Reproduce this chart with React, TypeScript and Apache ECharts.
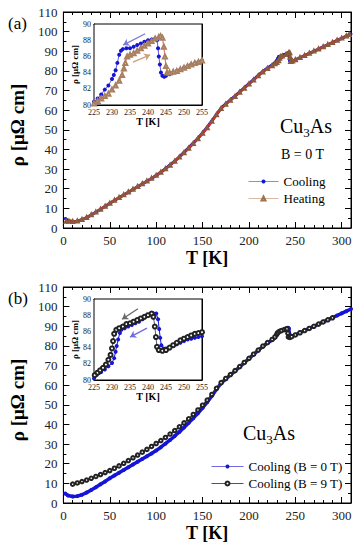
import React, { useEffect, useRef } from "react";
import * as echarts from "echarts";

const FONT = "Liberation Serif";

// ---------- data (T [K], rho [μΩ cm]) ----------
const coolingMain: number[][] = [
  [2, 4.8], [5, 3.8], [10, 3.3], [15, 3.5], [20, 4.2], [25, 5.3], [30, 6.6], [35, 8.0], [40, 9.5], [45, 11.0],
  [50, 12.6], [55, 14.0], [60, 15.4], [65, 16.8], [70, 18.2], [75, 19.6], [80, 21.0], [85, 22.4], [90, 23.8], [95, 25.2],
  [100, 26.7], [105, 28.4], [110, 30.2], [115, 32.1], [120, 34.1], [125, 36.2], [130, 38.5], [135, 40.8], [140, 43.2], [145, 45.7],
  [150, 48.4], [155, 51.3], [160, 54.5], [165, 57.9], [170, 61.0], [175, 63.2], [180, 65.2], [185, 67.2], [190, 69.3], [195, 71.4],
  [200, 73.5], [205, 75.6], [210, 77.7], [215, 79.7], [220, 81.5], [225, 83.0], [228, 84.2], [230, 85.4], [231, 86.3], [232, 87.3],
  [235, 87.8], [238, 88.3], [240, 88.7], [242, 89.2], [243, 89.0], [243.5, 86.5], [244, 85.0], [245, 84.6], [247, 85.0], [250, 85.6],
  [255, 86.7], [260, 87.8], [265, 88.9], [270, 90.0], [275, 91.1], [280, 92.2], [285, 93.3], [290, 94.4], [295, 95.5], [300, 96.6],
  [305, 97.7], [310, 98.8],
];

const heatingMain: number[][] = [
  [3, 3.5], [6, 3.4], [10, 3.3], [15, 3.6], [20, 4.3], [25, 5.4], [30, 6.7], [35, 8.1], [40, 9.6], [45, 11.1],
  [50, 12.6], [55, 14.1], [60, 15.5], [65, 16.9], [70, 18.3], [75, 19.7], [80, 21.1], [85, 22.5], [90, 23.9], [95, 25.3],
  [100, 26.8], [105, 28.4], [110, 30.2], [115, 32.0], [120, 34.0], [125, 36.1], [130, 38.3], [135, 40.6], [140, 43.0], [145, 45.5],
  [150, 48.2], [155, 51.1], [160, 54.3], [165, 57.7], [170, 60.8], [175, 63.0], [180, 65.0], [185, 67.0], [190, 69.1], [195, 71.2],
  [200, 73.3], [205, 75.4], [210, 77.5], [215, 79.5], [220, 81.2], [225, 82.6], [228, 83.6], [230, 84.3], [232, 85.2], [233, 86.4],
  [234, 87.2], [236, 87.6], [240, 88.4], [243, 89.2], [244, 89.3], [244.5, 86.8], [245, 84.8], [247, 85.1], [250, 85.7], [255, 86.8],
  [260, 87.9], [265, 89.0], [270, 90.1], [275, 91.2], [280, 92.3], [285, 93.4], [290, 94.5], [295, 95.6], [300, 96.7], [305, 97.8],
  [308, 98.6],
];

const field9Main: number[][] = [
  [10, 9.6], [15, 10.2], [20, 10.9], [25, 11.7], [30, 12.6], [35, 13.5], [40, 14.5], [45, 15.5], [50, 16.5], [55, 17.7],
  [60, 18.9], [65, 20.2], [70, 21.6], [75, 23.0], [80, 24.4], [85, 25.9], [90, 27.3], [95, 28.8], [100, 30.3], [105, 31.8],
  [110, 33.4], [115, 35.1], [120, 36.9], [125, 38.8], [130, 40.8], [135, 42.9], [140, 45.1], [145, 47.4], [150, 49.8], [155, 52.4],
  [160, 55.3], [165, 58.4], [170, 61.3], [175, 63.4], [180, 65.4], [185, 67.4], [190, 69.5], [195, 71.6], [200, 73.7], [205, 75.8],
  [210, 77.9], [215, 79.9], [220, 81.7], [225, 83.3], [228, 84.6], [230, 86.0], [231, 86.8], [233, 87.4], [235, 87.8], [238, 88.3],
  [240, 88.6], [241, 88.7], [242, 86.5], [242.5, 84.6], [244, 84.3], [246, 84.7], [250, 85.6], [255, 86.7], [260, 87.8], [265, 88.9],
  [270, 90.0], [275, 91.1], [280, 92.2], [285, 93.3], [290, 94.3],
];

const coolingInsetA: number[][] = [
  [225, 80.4], [226, 80.8], [227, 81.3], [228, 81.9], [229, 82.4], [230, 83.2], [230.5, 83.7], [231, 84.3], [231.5, 85.2], [232, 86.2],
  [232.5, 86.7], [233, 86.9], [234, 87.0], [235, 87.0], [236, 87.2], [237, 87.4], [238, 87.6], [239, 87.8], [240, 88.0], [241, 88.1],
  [242, 88.2], [242.5, 88.0], [242.8, 87.0], [243, 86.0], [243.3, 85.0], [243.6, 84.0], [244, 83.6], [244.5, 83.5], [245, 83.6], [246, 83.8],
  [247, 84.0], [248, 84.2], [249, 84.4], [250, 84.6], [251, 84.8], [252, 85.0], [253, 85.1], [254, 85.3], [255, 85.5],
];

const heatingInsetA: number[][] = [
  [225, 80.2], [226, 80.5], [227, 80.8], [228, 81.1], [229, 81.4], [230, 81.9], [231, 82.4], [232, 83.0], [232.8, 83.7], [233.3, 84.5],
  [233.7, 85.2], [234.2, 86.0], [235, 86.2], [236, 86.4], [237, 86.7], [238, 87.0], [239, 87.3], [240, 87.6], [241, 87.9], [242, 88.2],
  [243, 88.4], [243.5, 88.5], [244, 88.3], [244.4, 87.2], [244.7, 86.0], [245, 84.8], [245.3, 84.0], [246, 84.0], [247, 84.1], [248, 84.2],
  [249, 84.4], [250, 84.6], [251, 84.8], [252, 85.0], [253, 85.2], [254, 85.3], [255, 85.5],
];

const coolingInsetB: number[][] = [
  [225, 80.2], [225.7, 80.6], [226.5, 80.9], [227, 81.0], [228, 81.3], [229, 81.7], [230, 82.1], [230.6, 82.7], [231, 83.5], [231.3, 84.2],
  [231.7, 85.0], [232.2, 85.8], [232.6, 86.2], [233.5, 86.4], [234.5, 86.6], [235.5, 86.8], [236.5, 87.0], [237.5, 87.2], [238.5, 87.5], [239.5, 87.9],
  [240.5, 88.1], [241.5, 88.2], [242.3, 88.2], [242.8, 87.5], [243.1, 86.3], [243.4, 85.2], [243.7, 84.3], [244.3, 83.9], [245, 83.9], [246, 84.0],
  [247, 84.2], [248, 84.4], [249, 84.6], [250, 84.8], [251, 85.0], [252, 85.1], [253, 85.2], [254, 85.3], [255, 85.4],
];

const field9InsetB: number[][] = [
  [225.2, 80.6], [226, 80.9], [226.7, 81.2], [227.5, 81.5], [228.3, 81.9], [229, 82.5], [229.6, 83.1], [230, 83.9], [230.3, 84.8], [230.6, 85.7],
  [231.2, 86.2], [232, 86.4], [233, 86.6], [234, 86.9], [235, 87.0], [236, 87.2], [237, 87.4], [238, 87.6], [239, 87.8], [240, 88.0],
  [241, 88.2], [241.5, 87.8], [241.9, 86.6], [242.2, 85.3], [242.5, 84.1], [243, 83.7], [244, 83.6], [245, 83.7], [246, 84.0], [247, 84.3],
  [248, 84.6], [249, 84.9], [250, 85.1], [251, 85.3], [252, 85.5], [253, 85.7], [254, 85.8], [255, 85.9],
];

// arrows in insets: [start, end] in data coordinates
const arrowCoolA = [[239.2, 88.8], [233.1, 87.4]];
const arrowHeatA = [[235.8, 85.3], [240.6, 86.2]];
const arrowB9 = [[237.2, 88.8], [232.8, 87.5]];
const arrowB0 = [[239.7, 86.4], [235.0, 85.3]];

const mainXRange = [0, 310, 50];
const mainYRange = [0, 110, 10];
const insetXRange = [225, 255, 5];
const insetYRange = [80, 90, 2];

const BLUE = "#1515d8";
const legendText = { fontFamily: FONT, fontSize: 13, color: "#000" };

function makeX(grid: number, r: number[], inset: boolean, top: boolean) {
  return {
    type: "value",
    gridIndex: grid,
    min: r[0],
    max: r[1],
    interval: r[2],
    position: top ? "top" : "bottom",
    axisLine: { show: true, onZero: false, lineStyle: { color: "#000", width: 1 } },
    axisTick: { show: true, inside: true, length: inset ? 4 : 6, lineStyle: { color: "#000" } },
    minorTick: { show: true, splitNumber: 5, length: inset ? 2 : 3, lineStyle: { color: "#000" } },
    splitLine: { show: false },
    axisLabel: {
      show: !top,
      showMaxLabel: r[1] % r[2] === 0,
      fontFamily: FONT,
      fontSize: inset ? 8 : 13,
      color: "#222",
      margin: inset ? 3 : 6,
    },
    name: top ? "" : "T [K]",
    nameLocation: "middle",
    nameGap: inset ? 11 : 21,
    nameTextStyle: { fontFamily: FONT, fontSize: inset ? 10 : 18, fontWeight: "bold", color: "#000" },
  };
}

function makeY(grid: number, r: number[], inset: boolean, right: boolean) {
  return {
    type: "value",
    gridIndex: grid,
    min: r[0],
    max: r[1],
    interval: r[2],
    position: right ? "right" : "left",
    axisLine: { show: true, onZero: false, lineStyle: { color: "#000", width: 1 } },
    axisTick: { show: true, inside: true, length: inset ? 4 : 6, lineStyle: { color: "#000" } },
    minorTick: { show: true, splitNumber: inset ? 4 : 2, length: inset ? 2 : 3, lineStyle: { color: "#000" } },
    splitLine: { show: false },
    axisLabel: {
      show: !right,
      fontFamily: FONT,
      fontSize: inset ? 8 : 13,
      color: "#222",
      margin: inset ? 3 : 6,
    },
    name: right ? "" : "ρ [μΩ cm]",
    nameLocation: "middle",
    nameGap: inset ? 12 : 31,
    nameTextStyle: { fontFamily: FONT, fontSize: inset ? 9 : 19, fontWeight: "bold", color: "#000", padding: inset ? 0 : [0, 10, 0, 0] },
  };
}

function arrow(a: number[][], color: string) {
  return {
    silent: true,
    symbol: ["none", "arrow"],
    symbolSize: 6,
    lineStyle: { type: "solid", width: 1.3, color },
    label: { show: false },
    data: [[{ coord: a[0] }, { coord: a[1] }]],
  };
}

export default function App() {
  const ref = useRef<HTMLDivElement>(null);
  useEffect(() => {
    if (!ref.current) return;
    const chart = echarts.init(ref.current, undefined, { renderer: "svg" });
    const option: any = {
      animation: false,
      backgroundColor: "#fff",
      textStyle: { fontFamily: FONT },
      grid: [
        { left: 60, top: 12, width: 291, height: 216, show: true, borderColor: "#000", borderWidth: 1, backgroundColor: "transparent" },
        { left: 94, top: 24, width: 108, height: 81, show: true, backgroundColor: "#fff", borderColor: "#000", borderWidth: 1, z: 3 },
        { left: 60, top: 287, width: 291, height: 216, show: true, borderColor: "#000", borderWidth: 1, backgroundColor: "transparent" },
        { left: 94, top: 299, width: 108, height: 81, show: true, backgroundColor: "#fff", borderColor: "#000", borderWidth: 1, z: 3 },
      ],
      xAxis: [
        makeX(0, mainXRange, false, false),
        makeX(0, mainXRange, false, true),
        makeX(1, insetXRange, true, false),
        makeX(1, insetXRange, true, true),
        makeX(2, mainXRange, false, false),
        makeX(2, mainXRange, false, true),
        makeX(3, insetXRange, true, false),
        makeX(3, insetXRange, true, true),
      ],
      yAxis: [
        makeY(0, mainYRange, false, false),
        makeY(0, mainYRange, false, true),
        makeY(1, insetYRange, true, false),
        makeY(1, insetYRange, true, true),
        makeY(2, mainYRange, false, false),
        makeY(2, mainYRange, false, true),
        makeY(3, insetYRange, true, false),
        makeY(3, insetYRange, true, true),
      ],
      legend: [
        {
          left: 243,
          top: 170,
          orient: "vertical",
          itemWidth: 30,
          itemHeight: 5,
          itemGap: 4,
          textStyle: legendText,
          data: [
            { name: "Cooling", textStyle: legendText, itemStyle: { color: BLUE }, lineStyle: { color: "#8c8ce0", width: 1 } },
            { name: "Heating", textStyle: legendText, itemStyle: { color: "#a07050" }, lineStyle: { color: "#dbb9a0", width: 1 } },
          ],
        },
        {
          left: 206,
          top: 455,
          orient: "vertical",
          itemWidth: 32,
          itemHeight: 5,
          itemGap: 4,
          textStyle: legendText,
          data: [
            { name: "Cooling (B = 0 T)", textStyle: legendText, itemStyle: { color: BLUE }, lineStyle: { color: "#6e6ee0", width: 1 } },
            { name: "Cooling (B = 9 T)", textStyle: legendText, itemStyle: { color: "#222" }, lineStyle: { color: "#555", width: 1 } },
          ],
        },
      ],
      series: [
        // panel (a) main
        {
          name: "Cooling", type: "line", xAxisIndex: 0, yAxisIndex: 0, data: coolingMain, z: 2,
          symbol: "circle", symbolSize: 3, lineStyle: { color: BLUE, width: 3 }, itemStyle: { color: BLUE },
        },
        {
          name: "Heating", type: "line", xAxisIndex: 0, yAxisIndex: 0, data: heatingMain, z: 2,
          symbol: "emptyTriangle", symbolSize: 3, lineStyle: { color: "#d42a2a", width: 2.5 },
          itemStyle: { color: "#8a5a3c", borderWidth: 0.8 },
        },
        // panel (a) inset
        {
          name: "Cooling", type: "line", xAxisIndex: 2, yAxisIndex: 2, data: coolingInsetA, z: 5,
          symbol: "circle", symbolSize: 4, lineStyle: { color: "#6a5ad8", width: 1 }, itemStyle: { color: BLUE },
          markLine: arrow(arrowCoolA, "#7b7bd6"),
        },
        {
          name: "Heating", type: "line", xAxisIndex: 2, yAxisIndex: 2, data: heatingInsetA, z: 5,
          symbol: "emptyTriangle", symbolSize: 4, lineStyle: { color: "#e27a7a", width: 1.2 },
          itemStyle: { color: "#a88060", borderWidth: 0.8 },
          markLine: arrow(arrowHeatA, "#cfa07e"),
        },
        // panel (b) main
        {
          name: "Cooling (B = 0 T)", type: "line", xAxisIndex: 4, yAxisIndex: 4, data: coolingMain, z: 2,
          symbol: "circle", symbolSize: 4, lineStyle: { color: BLUE, width: 3.5 }, itemStyle: { color: BLUE },
        },
        {
          name: "Cooling (B = 9 T)", type: "line", xAxisIndex: 4, yAxisIndex: 4, data: field9Main, z: 2,
          symbol: "emptyCircle", symbolSize: 3.5, lineStyle: { color: "#333", width: 1.5 },
          itemStyle: { color: "#222", borderWidth: 0.8 },
        },
        // panel (b) inset
        {
          name: "Cooling (B = 0 T)", type: "line", xAxisIndex: 6, yAxisIndex: 6, data: coolingInsetB, z: 5,
          symbol: "circle", symbolSize: 4, lineStyle: { color: BLUE, width: 1 }, itemStyle: { color: BLUE },
          markLine: arrow(arrowB0, "#6e6ee0"),
        },
        {
          name: "Cooling (B = 9 T)", type: "line", xAxisIndex: 6, yAxisIndex: 6, data: field9InsetB, z: 5,
          symbol: "emptyCircle", symbolSize: 4, lineStyle: { color: "#333", width: 0.8 },
          itemStyle: { color: "#222", borderWidth: 0.8 },
          markLine: arrow(arrowB9, "#666"),
        },
      ],
      graphic: [
        { type: "text", x: 8, y: 23, style: { text: "(a)", fontFamily: FONT, fontSize: 17, fill: "#000", verticalAlign: "middle" } },
        { type: "text", x: 8, y: 298, style: { text: "(b)", fontFamily: FONT, fontSize: 17, fill: "#000", verticalAlign: "middle" } },
        {
          type: "text", x: 280, y: 126,
          style: {
            text: "{a|Cu}{s|3}{a|As}", verticalAlign: "middle", fill: "#000",
            rich: {
              a: { fontFamily: FONT, fontSize: 20, fill: "#000" },
              s: { fontFamily: FONT, fontSize: 13, fill: "#000", padding: [12, 0, 0, 0] },
            },
          },
        },
        { type: "text", x: 281, y: 154, style: { text: "B = 0 T", fontFamily: FONT, fontSize: 14, fill: "#000", verticalAlign: "middle" } },
        {
          type: "text", x: 243, y: 433,
          style: {
            text: "{a|Cu}{s|3}{a|As}", verticalAlign: "middle", fill: "#000",
            rich: {
              a: { fontFamily: FONT, fontSize: 20, fill: "#000" },
              s: { fontFamily: FONT, fontSize: 13, fill: "#000", padding: [12, 0, 0, 0] },
            },
          },
        },
      ],
    };
    chart.setOption(option);
    return () => chart.dispose();
  }, []);
  return <div ref={ref} style={{ width: 361, height: 550, position: "absolute", left: 0, top: 0 }} />;
}
